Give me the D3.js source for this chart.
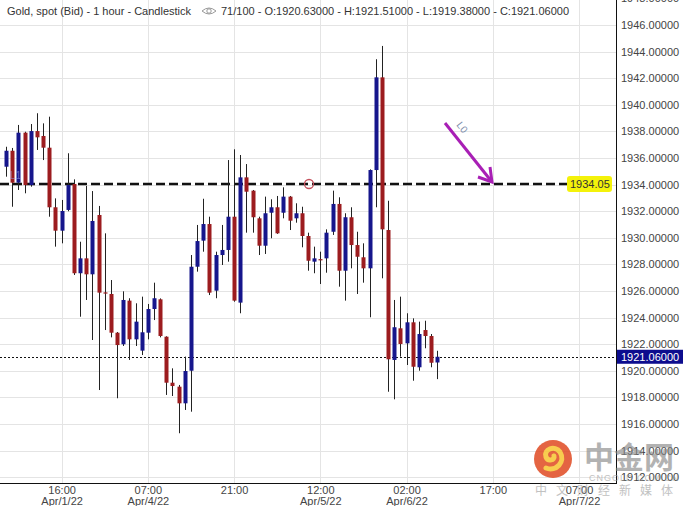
<!DOCTYPE html>
<html lang="en">
<head>
  <meta charset="UTF-8">
  <title>Gold spot 1h candlestick</title>
  <script src="https://cdn.jsdelivr.net/npm/d3@7"></script>
  <style>
    body { margin: 0; background: #fff; }
    svg { display: block; font-family: "Liberation Sans", Arial, sans-serif; }
  </style>
</head>
<body>
<svg></svg>
<script>
  // hourly bars (71 of 100)
  const opens = [1935.35,1936.55,1934.15,1937.91,1933.97,1938.03,1937.66,1936.78,1932.30,1930.54,
    1932.10,1934.05,1927.34,1928.46,1927.26,1931.72,1925.90,1925.78,1922.87,1922.00,
    1925.28,1922.37,1921.52,1922.87,1924.65,1925.38,1922.57,1919.11,1918.81,1917.56,
    1920.01,1927.83,1929.79,1931.04,1926.03,1928.71,1929.09,1931.59,1925.13,1934.55,
    1933.55,1931.47,1929.41,1931.89,1932.30,1931.89,1933.10,1931.47,1931.85,1930.14,
    1928.21,1928.40,1928.46,1930.46,1932.55,1927.53,1931.55,1929.46,1928.54,1927.71,
    1935.10,1942.07,1930.59,1920.82,1923.20,1922.07,1923.65,1920.27,1923.07,1922.62,
    1920.63]
  const highs = [1936.85,1936.76,1938.49,1937.98,1938.56,1939.37,1938.61,1939.11,1932.97,1932.85,
    1936.36,1934.40,1929.71,1933.90,1933.52,1932.40,1930.34,1926.83,1922.92,1925.98,
    1925.46,1925.08,1925.58,1925.03,1926.63,1925.45,1922.60,1920.19,1918.94,1921.07,
    1928.71,1930.97,1932.94,1931.59,1928.96,1930.97,1935.85,1936.66,1936.23,1935.55,
    1933.60,1931.59,1933.10,1932.90,1933.15,1933.80,1933.15,1932.60,1932.34,1930.39,
    1929.34,1928.96,1930.64,1933.55,1933.05,1931.85,1932.30,1930.46,1929.59,1935.15,
    1943.43,1944.43,1932.79,1925.33,1925.58,1924.33,1923.95,1923.70,1923.77,1922.77,
    1921.51]
  const lows = [1934.60,1932.34,1933.60,1933.35,1933.85,1936.61,1935.85,1931.59,1929.34,1929.59,
    1932.00,1927.21,1924.07,1925.33,1922.32,1918.56,1923.07,1922.52,1917.94,1921.87,
    1920.82,1921.87,1921.19,1922.37,1923.82,1922.52,1918.19,1918.11,1915.31,1917.06,
    1916.93,1927.46,1928.96,1925.70,1925.46,1927.96,1928.21,1925.20,1924.33,1930.39,
    1930.39,1928.71,1928.79,1929.97,1930.30,1931.47,1930.59,1931.14,1929.29,1927.53,
    1927.34,1926.53,1927.38,1930.22,1926.33,1925.28,1927.71,1925.78,1926.63,1924.03,
    1932.30,1926.96,1918.43,1917.86,1921.07,1920.44,1919.26,1920.01,1921.70,1920.27,
    1919.38]
  const closes = [1936.55,1934.15,1937.91,1933.97,1938.03,1937.56,1936.78,1932.30,1930.54,1932.02,
    1933.97,1927.34,1928.46,1927.26,1931.27,1925.88,1925.82,1922.87,1921.94,1925.33,
    1922.37,1923.70,1922.90,1924.65,1925.46,1922.62,1919.11,1918.86,1917.56,1919.99,
    1927.83,1929.76,1931.04,1925.88,1928.71,1929.09,1931.59,1925.28,1934.55,1933.47,
    1931.55,1929.41,1931.85,1932.30,1930.34,1933.10,1931.29,1931.85,1930.14,1928.28,
    1928.46,1928.38,1930.39,1932.55,1927.53,1931.55,1929.46,1928.58,1927.71,1935.10,
    1942.07,1930.64,1920.87,1923.28,1922.02,1923.65,1920.31,1922.77,1922.62,1920.61,
    1921.06]

  const timeTicks = [9, 23, 37, 51, 65, 79, 93]
  const timeLabels = [["16:00", "Apr/1/22"], ["07:00", "Apr/4/22"], ["21:00", ""], ["12:00", "Apr/5/22"],
    ["02:00", "Apr/6/22"], ["17:00", ""], ["07:00", "Apr/7/22"]]
  const priceTicks = d3.range(1912, 1949, 2)
  const levelLine = 1934.05
  const lastClose = 1921.06

  const width = 690, height = 506
  const plotRight = 616, plotBottom = 483

  const data = opens.map((o, i) => ({i, o, h: highs[i], l: lows[i], c: closes[i]}))

  const svg = d3.select('svg')
      .attr('width', width)
      .attr('height', height)

  const x = d3.scaleLinear().domain([-1, 99]).range([0, plotRight])
  const y = d3.scaleLinear()
      .domain([levelLine - (plotBottom - 184) / 13.3, levelLine + 184 / 13.3])
      .range([plotBottom, 0])

  // grid
  svg.append('g')
      .selectAll('line')
      .data(priceTicks)
      .join('line')
      .attr('x1', 0).attr('x2', plotRight)
      .attr('y1', d => Math.round(y(d)) + 0.5).attr('y2', d => Math.round(y(d)) + 0.5)
      .attr('stroke', '#e4e4e4')
  svg.append('g')
      .selectAll('line')
      .data(timeTicks)
      .join('line')
      .attr('x1', d => Math.round(x(d)) + 0.5).attr('x2', d => Math.round(x(d)) + 0.5)
      .attr('y1', 0).attr('y2', plotBottom)
      .attr('stroke', '#e4e4e4')

  // axes
  svg.append('g')
      .attr('transform', `translate(${plotRight},0)`)
      .call(d3.axisRight(y).tickValues(priceTicks).tickFormat(d3.format('.5f')).tickSize(0).tickPadding(5))
      .call(g => g.select('.domain').remove())
      .call(g => g.selectAll('text').attr('fill', '#444').style('font-size', '11px').style('font-family', '"Liberation Sans", Arial, sans-serif'))

  svg.append('line')
      .attr('x1', plotRight + 0.5).attr('x2', plotRight + 0.5)
      .attr('y1', 0).attr('y2', plotBottom + 1)
      .attr('stroke', '#111')

  const xAxis = svg.append('g')
      .attr('transform', `translate(0,${plotBottom})`)
      .call(d3.axisBottom(x).tickValues(timeTicks).tickFormat('').tickSize(0))
  xAxis.select('.domain').remove()
  xAxis.append('line')
      .attr('x1', 0).attr('x2', plotRight)
      .attr('y1', 0.5).attr('y2', 0.5)
      .attr('stroke', '#111')
  xAxis.selectAll('.tick')
      .append('text')
      .attr('fill', '#444')
      .attr('text-anchor', 'middle')
      .style('font-size', '11px')
      .style('font-family', '"Liberation Sans", Arial, sans-serif')
      .selectAll('tspan')
      .data((d, k) => timeLabels[k])
      .join('tspan')
      .attr('x', 0)
      .attr('y', (d, j) => j === 0 ? 11 : 22)
      .text(d => d)

  // level line + last price line
  svg.append('line')
      .attr('x1', 0).attr('x2', 567)
      .attr('y1', y(levelLine)).attr('y2', y(levelLine))
      .attr('stroke', '#111')
      .attr('stroke-width', 2.6)
      .attr('stroke-dasharray', '9,4')
  svg.append('line')
      .attr('x1', 0).attr('x2', plotRight)
      .attr('y1', Math.round(y(lastClose)) + 0.5).attr('y2', Math.round(y(lastClose)) + 0.5)
      .attr('stroke', '#111')
      .attr('stroke-dasharray', '2,2')

  // candles
  const candle = svg.append('g')
      .selectAll('g')
      .data(data)
      .join('g')
      .attr('transform', d => `translate(${Math.round(x(d.i))},0)`)
  candle.append('line')
      .attr('x1', 0.5).attr('x2', 0.5)
      .attr('y1', d => y(d.h)).attr('y2', d => y(d.l))
      .attr('stroke', '#222')
  candle.append('rect')
      .attr('x', -1.5)
      .attr('width', 4)
      .attr('y', d => y(Math.max(d.o, d.c)))
      .attr('height', d => Math.max(1.2, Math.abs(y(d.o) - y(d.c))))
      .attr('fill', d => d.c >= d.o ? '#16168c' : '#9c1c1f')

  // marker on level line
  svg.append('circle')
      .attr('cx', 309).attr('cy', y(levelLine))
      .attr('r', 4.5)
      .attr('fill', 'none')
      .attr('stroke', '#c4505c')
      .attr('stroke-width', 1.3)

  // faint L1 label
  svg.append('text')
      .attr('x', 10).attr('y', 179)
      .attr('fill', '#9a9ae6')
      .attr('opacity', 0.6)
      .style('font-size', '10px')
      .text('L1')

  // magenta arrow L0
  const arrow = svg.append('g').attr('stroke', '#a81fb5').attr('stroke-width', 3).attr('fill', 'none')
  arrow.append('line').attr('x1', 445).attr('y1', 123).attr('x2', 492).attr('y2', 182)
  arrow.append('path').attr('d', 'M478,177 L492,182 L490,167').attr('stroke-linejoin', 'miter')
  svg.append('text')
      .attr('transform', 'translate(456,125) rotate(52)')
      .attr('fill', '#7c8cab')
      .style('font-size', '10px')
      .text('L0')

  // level label
  const lv = svg.append('g').attr('transform', `translate(567,${y(levelLine)})`)
  lv.append('rect').attr('x', 0).attr('y', -8).attr('width', 45).attr('height', 16).attr('rx', 3)
      .attr('fill', '#f4f20a')
  lv.append('text').attr('x', 3).attr('y', 4).attr('fill', '#333').style('font-size', '11px').text('1934.05')

  // last price label on the axis
  const lp = svg.append('g').attr('transform', `translate(${plotRight + 1},${y(lastClose)})`)
  lp.append('rect').attr('x', 0).attr('y', -7).attr('width', 66).attr('height', 14).attr('fill', '#0d0d8e')
  lp.append('text').attr('x', 4).attr('y', 4).attr('fill', '#fff').style('font-size', '11px').text('1921.06000')

  // header
  svg.append('text')
      .attr('x', 7).attr('y', 15)
      .attr('fill', '#333')
      .style('font-size', '11px')
      .text('Gold, spot (Bid) - 1 hour - Candlestick')
  const eye = svg.append('g').attr('transform', 'translate(209,11)').attr('fill', 'none').attr('stroke', '#999')
  eye.append('path').attr('d', 'M-7,0 Q0,-6 7,0 Q0,6 -7,0 Z')
  eye.append('circle').attr('r', 2.2)
  svg.append('text')
      .attr('x', 221).attr('y', 15)
      .attr('fill', '#333')
      .style('font-size', '11px')
      .text('71/100 - O:1920.63000 - H:1921.51000 - L:1919.38000 - C:1921.06000')

  // watermark
  const wm = svg.append('g').attr('opacity', 0.85)
  wm.append('circle').attr('cx', 553).attr('cy', 459).attr('r', 19).attr('fill', '#e04a22')
  wm.append('path')
      .attr('d', 'M546,468 C556,472 566,462 560,452 C555,445 543,449 546,457 C548,462 555,460 554,456')
      .attr('fill', 'none').attr('stroke', '#f7c531').attr('stroke-width', 5).attr('stroke-linecap', 'round')
  wm.append('text').attr('x', 584).attr('y', 468)
      .attr('fill', '#888').attr('opacity', 0.75)
      .style('font-size', '30px').style('font-weight', 'bold')
      .style('font-family', '"Noto Sans CJK SC", sans-serif')
      .text('中金网')
  wm.append('text').attr('x', 589).attr('y', 481)
      .attr('fill', '#999').attr('opacity', 0.7)
      .style('font-size', '9px').style('letter-spacing', '1px')
      .text('CNGOLD.COM.CN')
  wm.append('text').attr('x', 535).attr('y', 495)
      .attr('fill', '#999').attr('opacity', 0.7)
      .style('font-size', '12px').style('letter-spacing', '9px')
      .style('font-family', '"Noto Sans CJK SC", sans-serif')
      .text('中文财经新媒体')
</script>
</body>
</html>
